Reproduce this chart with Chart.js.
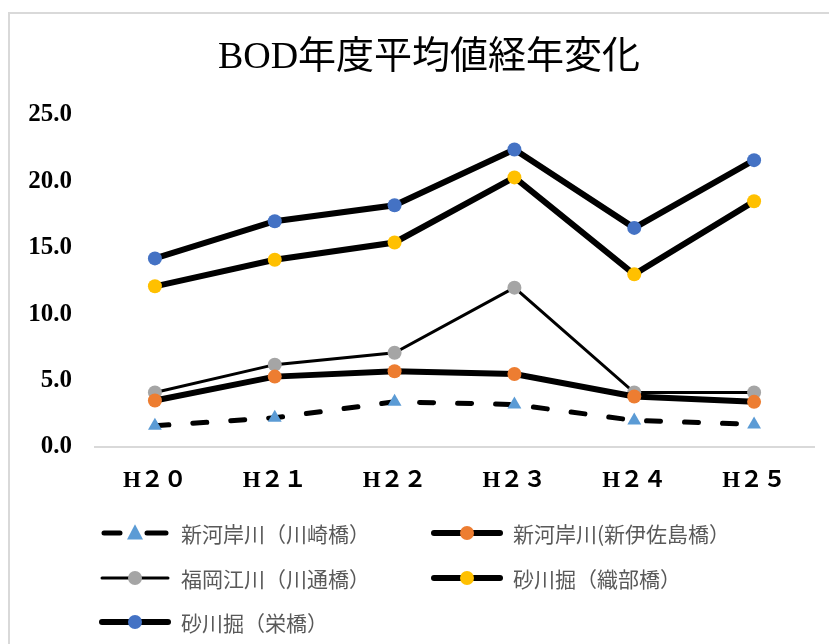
<!DOCTYPE html>
<html lang="ja">
<head>
<meta charset="utf-8">
<title>BOD年度平均値経年変化</title>
<script src="https://cdn.jsdelivr.net/npm/chart.js"></script>
<style>
  html, body { margin: 0; padding: 0; background: #fff; }
  #wrap { position: relative; width: 829px; height: 644px; overflow: hidden; }
  #frame {
    position: absolute; left: 8px; top: 12px; width: 840px; height: 660px;
    border-left: 2px solid #d9d9d9; border-top: 2px solid #d9d9d9;
    pointer-events: none;
  }
  canvas { position: absolute; left: 0; top: 0; }
</style>
</head>
<body>
<div id="wrap">
  <canvas id="bodChart" width="829" height="644"></canvas>
  <div id="frame"></div>
</div>
<script>
// 年度
const years = ["H２０", "H２１", "H２２", "H２３", "H２４", "H２５"];

// 各地点のBOD年度平均値 (mg/L)
const kawasakiBashi = [1.6, 2.2, 3.4, 3.2, 2.0, 1.7];
const shinIsajimaBashi = [3.5, 5.3, 5.7, 5.5, 3.8, 3.4];
const kawadooriBashi = [4.1, 6.2, 7.1, 12.0, 4.1, 4.1];
const oribeBashi = [12.1, 14.1, 15.4, 20.3, 13.0, 18.5];
const sakaeBashi = [14.2, 17.0, 18.2, 22.4, 16.5, 21.6];

const seriesNames = [
  "新河岸川（川崎橋）",
  "新河岸川(新伊佐島橋）",
  "福岡江川（川通橋）",
  "砂川掘（織部橋）",
  "砂川掘（栄橋）",
];

const chartTitle = "BOD年度平均値経年変化";
const yTicks = [0, 5, 10, 15, 20, 25];

/**
 * Title centred over the whole chart box
 */
const boxTitle = {
  id: "boxTitle",
  afterDraw(chart, args, opts) {
    const ctx = chart.ctx;
    ctx.save();
    ctx.font = opts.font;
    ctx.fillStyle = opts.color;
    ctx.textAlign = "center";
    ctx.textBaseline = "middle";
    ctx.fillText(opts.text, opts.x, opts.y);
    ctx.restore();
  },
};

/**
 * Two-column legend drawn under the plot
 */
const gridLegend = {
  id: "gridLegend",
  afterDraw(chart, args, opts) {
    const ctx = chart.ctx;
    ctx.save();
    ctx.font = opts.font;
    ctx.textBaseline = "middle";
    chart.data.datasets.forEach((ds, i) => {
      const col = i % 2;
      const row = Math.floor(i / 2);
      const x = opts.columns[col];
      const y = opts.rows[row];
      const len = opts.swatchLength;
      const mx = x + len / 2;

      // line sample
      ctx.strokeStyle = ds.borderColor;
      ctx.lineWidth = ds.borderWidth;
      ctx.lineCap = "round";
      ctx.beginPath();
      if (ds.borderDash) {
        // short dash either side of the marker
        ctx.moveTo(x + 2, y);
        ctx.lineTo(x + 18, y);
        ctx.moveTo(mx + 12, y);
        ctx.lineTo(x + len - 2, y);
      } else {
        ctx.moveTo(x, y);
        ctx.lineTo(x + len, y);
      }
      ctx.stroke();

      // marker
      const r = ds.pointRadius;
      ctx.fillStyle = ds.pointBackgroundColor;
      ctx.beginPath();
      if (ds.pointStyle === "triangle") {
        ctx.moveTo(mx, y - r * 1.1);
        ctx.lineTo(mx + r, y + r * 0.8);
        ctx.lineTo(mx - r, y + r * 0.8);
        ctx.closePath();
      } else {
        ctx.arc(mx, y, r, 0, Math.PI * 2);
      }
      ctx.fill();

      ctx.fillStyle = opts.color;
      ctx.fillText(ds.label, x + len + opts.textGap, y + 1);
    });
    ctx.restore();
  },
};

const ctx = document.getElementById("bodChart");

new Chart(ctx, {
  type: "line",
  data: {
    labels: years,
    datasets: [
      {
        label: seriesNames[0],
        data: kawasakiBashi,
        borderColor: "#000000",
        borderWidth: 5,
        borderDash: [14, 24],
        borderCapStyle: "round",
        pointStyle: "triangle",
        pointRadius: 8,
        pointBackgroundColor: "#5b9bd5",
        pointBorderWidth: 0,
      },
      {
        label: seriesNames[1],
        data: shinIsajimaBashi,
        borderColor: "#000000",
        borderWidth: 6,
        pointRadius: 7,
        pointBackgroundColor: "#ed7d31",
        pointBorderWidth: 0,
      },
      {
        label: seriesNames[2],
        data: kawadooriBashi,
        borderColor: "#000000",
        borderWidth: 3,
        pointRadius: 7,
        pointBackgroundColor: "#a5a5a5",
        pointBorderWidth: 0,
      },
      {
        label: seriesNames[3],
        data: oribeBashi,
        borderColor: "#000000",
        borderWidth: 6,
        pointRadius: 7,
        pointBackgroundColor: "#ffc000",
        pointBorderWidth: 0,
      },
      {
        label: seriesNames[4],
        data: sakaeBashi,
        borderColor: "#000000",
        borderWidth: 6,
        pointRadius: 7,
        pointBackgroundColor: "#4472c4",
        pointBorderWidth: 0,
      },
    ],
  },
  options: {
    responsive: false,
    animation: false,
    layout: {
      padding: { left: 0, right: 15, top: 115, bottom: 137 },
    },
    plugins: {
      legend: { display: false },
      tooltip: { enabled: false },
      title: { display: false },
      boxTitle: {
        text: chartTitle,
        font: "38px 'Liberation Serif', 'Noto Sans CJK JP', serif",
        color: "#000000",
        x: 429,
        y: 58,
      },
      gridLegend: {
        font: "21px 'Noto Sans CJK JP', sans-serif",
        color: "#595959",
        columns: [102, 434],
        rows: [533, 578, 622],
        swatchLength: 66,
        textGap: 13,
      },
    },
    scales: {
      x: {
        offset: true,
        grid: { display: false, drawTicks: false },
        border: { display: true, color: "#d9d9d9", width: 2 },
        ticks: {
          color: "#000000",
          padding: 20,
          font: {
            family: "'Liberation Serif', 'Noto Sans CJK JP', serif",
            size: 23,
            weight: "bold",
          },
        },
        afterFit(scale) {
          scale.height = 60;
        },
      },
      y: {
        min: 0,
        max: 25,
        afterBuildTicks(scale) {
          scale.ticks = yTicks.map((v) => ({ value: v }));
        },
        grid: { display: false, drawTicks: false },
        border: { display: false },
        ticks: {
          color: "#000000",
          padding: 23,
          callback: (v) => Number(v).toFixed(1),
          font: {
            family: "'Liberation Serif', serif",
            size: 25,
            weight: "bold",
          },
        },
        afterFit(scale) {
          scale.width = 95;
        },
      },
    },
  },
  plugins: [boxTitle, gridLegend],
});
</script>
</body>
</html>
